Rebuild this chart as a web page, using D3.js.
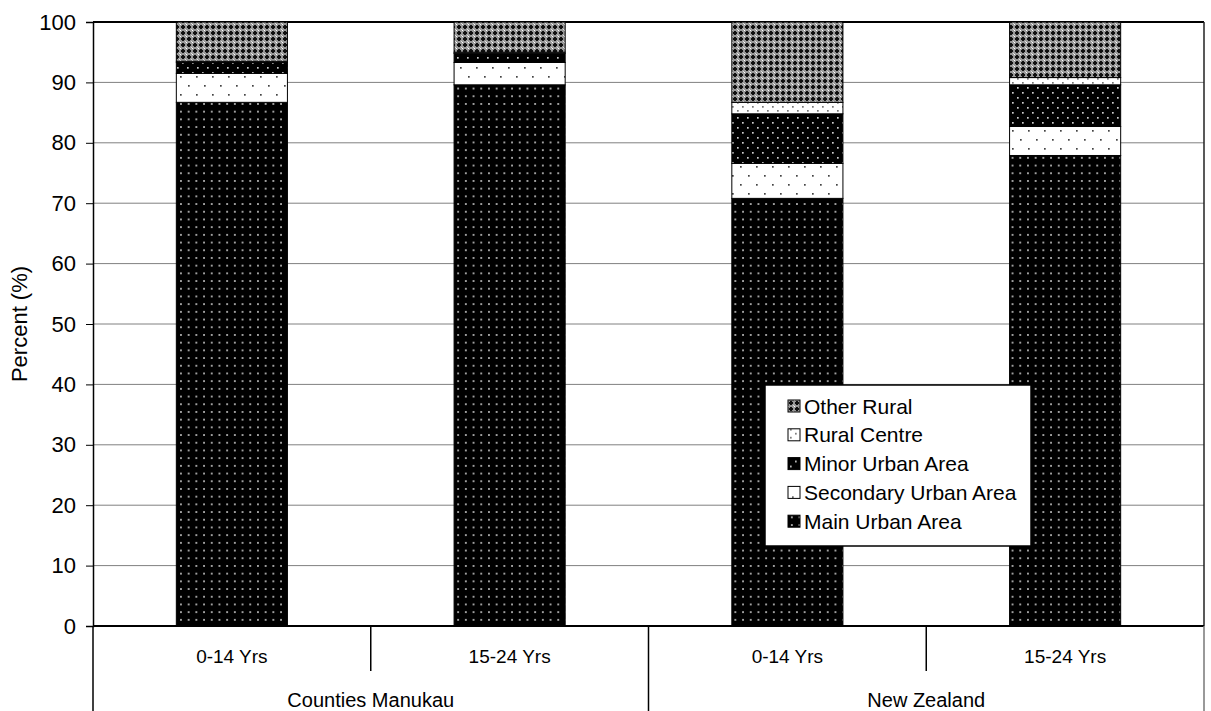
<!DOCTYPE html>
<html><head><meta charset="utf-8">
<script src="https://cdn.jsdelivr.net/npm/d3@7"></script>
<style>body{margin:0;background:#fff}svg{display:block;font-family:Arial,"Liberation Sans",sans-serif}</style>
</head><body><svg id="c" width="1211" height="711"></svg>
<script>
const groups = ["Counties Manukau","New Zealand"];
const ages = ["0-14 Yrs","15-24 Yrs"];
const seriesNames = ["Main Urban Area","Secondary Urban Area","Minor Urban Area","Rural Centre","Other Rural"];
const mainUrban      = [86.7, 89.6, 70.8, 77.9];
const secondaryUrban = [4.8, 3.7, 5.8, 4.8];
const minorUrban     = [1.8, 1.5, 8.2, 6.9];
const ruralCentre    = [0.2, 0.2, 1.9, 1.2];
const otherRural     = [6.5, 5.0, 13.3, 9.2];
const yTicks = [0,10,20,30,40,50,60,70,80,90,100];

const values = [mainUrban, secondaryUrban, minorUrban, ruralCentre, otherRural];
const cats = [];
groups.forEach(g => ages.forEach(a => cats.push(g + "|" + a)));
const rows = cats.map((c,i) => { const r = {cat:c}; seriesNames.forEach((s,j)=> r[s]=values[j][i]); return r; });

const svg = d3.select("#c");
const L = 93, R = 1204, T = 22, B = 626;
const x = d3.scaleBand().domain(cats).range([L,R]).paddingInner(0.6).paddingOuter(0.3);
const y = d3.scaleLinear().domain([0,100]).range([B,T]);

// patterns
const defs = svg.append("defs");
function pat(id, w, h, bg, dots, col, r) {
  const p = defs.append("pattern").attr("id",id).attr("patternUnits","userSpaceOnUse").attr("width",w).attr("height",h);
  p.append("rect").attr("width",w).attr("height",h).attr("fill",bg);
  dots.forEach(d => p.append("rect").attr("x",d[0]).attr("y",d[1]).attr("width",r).attr("height",r).attr("fill",col));
  return p;
}
pat("pMain", 7.7, 7.7, "#000", [[3,3]], "#ccc", 1.7);
pat("pSec", 16, 18, "#fff", [[4,4],[12,13]], "#444", 1.7);
pat("pMinor", 10, 10, "#000", [[2,2],[7,7]], "#ccc", 1.7);
pat("pRC", 10, 8, "#fff", [[2,2],[7,6]], "#777", 1.7);
const po = defs.append("pattern").attr("id","pOther").attr("patternUnits","userSpaceOnUse").attr("width",6).attr("height",6);
po.append("rect").attr("width",6).attr("height",6).attr("fill","#999");
po.append("rect").attr("x",2).attr("y",1).attr("width",2).attr("height",4).attr("fill","#111");
po.append("rect").attr("x",1).attr("y",2).attr("width",4).attr("height",2).attr("fill","#111");
po.append("rect").attr("x",0).attr("y",0).attr("width",1).attr("height",1).attr("fill","#fff");
po.append("rect").attr("x",5).attr("y",5).attr("width",1).attr("height",1).attr("fill","#ddd");
const fills = {"Main Urban Area":"url(#pMain)","Secondary Urban Area":"url(#pSec)","Minor Urban Area":"url(#pMinor)","Rural Centre":"url(#pRC)","Other Rural":"url(#pOther)"};

// gridlines
svg.append("g").selectAll("line").data(yTicks.filter(t=>t>0 && t<100)).join("line")
  .attr("x1",L).attr("x2",R).attr("y1",d=>y(d)).attr("y2",d=>y(d)).attr("stroke","#808080").attr("stroke-width",1);
svg.append("line").attr("x1",L).attr("x2",R).attr("y1",y(100)).attr("y2",y(100)).attr("stroke","#000").attr("stroke-width",2);
svg.append("line").attr("x1",R).attr("x2",R).attr("y1",T).attr("y2",B).attr("stroke","#222").attr("stroke-width",1.5);

// bars
const stacked = d3.stack().keys(seriesNames)(rows);
svg.append("g").selectAll("g").data(stacked).join("g")
  .attr("fill", d => fills[d.key])
  .selectAll("rect").data(d => d).join("rect")
  .attr("x", d => x(d.data.cat)).attr("width", x.bandwidth())
  .attr("y", d => y(d[1])).attr("height", d => y(d[0]) - y(d[1]))
  .attr("stroke","#000").attr("stroke-width",1);

// y axis
const yAxis = d3.axisLeft(y).tickValues(yTicks).tickSize(7).tickPadding(10);
const ya = svg.append("g").attr("transform",`translate(${L},0)`).call(yAxis);
ya.select(".domain").attr("stroke","#000").attr("stroke-width",1.5);
ya.selectAll(".tick line").attr("stroke","#000");
ya.selectAll("text").attr("font-size",22).attr("fill","#000").attr("font-family","Arial, 'Liberation Sans', sans-serif");

svg.append("text").attr("transform",`translate(27,${(T+B)/2}) rotate(-90)`).attr("text-anchor","middle")
  .attr("font-size",22).text("Percent (%)");

// x axis
svg.append("line").attr("x1",L).attr("x2",R).attr("y1",B).attr("y2",B).attr("stroke","#000").attr("stroke-width",2);
const catBounds = d3.range(cats.length + 1).map(i => L + i*(R-L)/cats.length);
svg.append("g").selectAll("line").data(catBounds).join("line")
  .attr("x1",d=>d).attr("x2",d=>d).attr("y1",B)
  .attr("y2",(d,i)=> i % 2 === 0 ? 711 : 671)
  .attr("stroke",(d,i)=> i===catBounds.length-1 ? "#777" : "#000").attr("stroke-width",1.5);
svg.append("g").selectAll("text").data(cats).join("text")
  .attr("x", d => x(d) + x.bandwidth()/2).attr("y", 663).attr("text-anchor","middle")
  .attr("font-size",19).text(d => d.split("|")[1]);
svg.append("g").selectAll("text").data(groups).join("text")
  .attr("x", (d,i) => (catBounds[i*2] + catBounds[i*2+2])/2).attr("y", 707).attr("text-anchor","middle")
  .attr("font-size",20).text(d => d);

// legend
const lg = svg.append("g");
lg.append("rect").attr("x",765).attr("y",385).attr("width",266).attr("height",161).attr("fill","#fff").attr("stroke","#000").attr("stroke-width",1.5);
const legItems = seriesNames.slice().reverse();
const li = lg.selectAll("g.li").data(legItems).join("g").attr("class","li")
  .attr("transform",(d,i)=>`translate(788,${406 + i*28.8})`);
li.append("rect").attr("x",0).attr("y",-6).attr("width",12).attr("height",12).attr("fill",d=>fills[d]).attr("stroke","#000").attr("stroke-width",1);
li.append("text").attr("x",16).attr("y",7.5).attr("font-size",21).text(d=>d);
</script></body></html>
